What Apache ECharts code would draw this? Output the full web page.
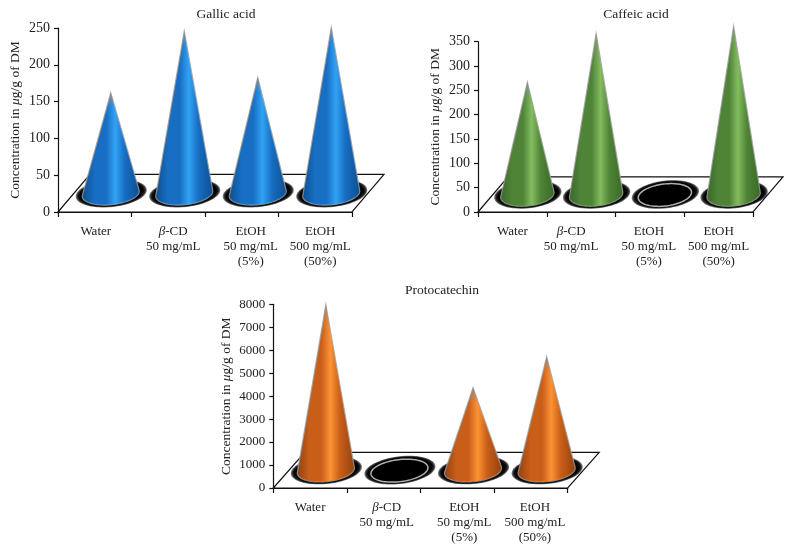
<!DOCTYPE html>
<html><head><meta charset="utf-8">
<style>html,body{margin:0;padding:0;background:#fff}#c{width:793px;height:550px}</style>
<script src="https://cdn.jsdelivr.net/npm/echarts@6/dist/echarts.min.js"></script>
</head><body><div id="c"></div>
<script>
const categories = ['Water', 'β-CD\n50 mg/mL', 'EtOH\n50 mg/mL\n(5%)', 'EtOH\n500 mg/mL\n(50%)'];
const gallicValues = [162, 246, 183, 251];
const caffeicValues = [267, 367, 0, 382];
const protocatechinValues = [7990, 0, 4370, 5720];
const gallicTicks = {max: 250, interval: 50};
const caffeicTicks = {max: 350, interval: 50};
const protocatechinTicks = {max: 8000, interval: 1000};
const titles = ['Gallic acid', 'Caffeic acid', 'Protocatechin'];
const yName = '{r|Concentration in }{i|μ}{r|g/g of DM}';

const FONT = '"Liberation Serif", serif';
const INK = '#222';
const panels = [
  {title: titles[0], values: gallicValues, ticks: gallicTicks, left: 58, top: 28, width: 294, height: 184,
   titleX: 221, titleY: 2, depthX: 32, floorValue: 51, nameGap: 36, tickFont: 14,
   stops: ['#0d4e8e', '#176ec2', '#33a2f4'], shift: [1, 5, 9, 5]},
  {title: titles[1], values: caffeicValues, ticks: caffeicTicks, left: 478, top: 41.7, width: 275, height: 170.3,
   titleX: 631, titleY: 2, depthX: 30, floorValue: 72, nameGap: 36, tickFont: 14,
   stops: ['#3a6826', '#4f8437', '#84bc60'], shift: [0, -10, -1, 0]},
  {title: titles[2], values: protocatechinValues, ticks: protocatechinTicks, left: 273.3, top: 304.3, width: 294.4, height: 183.7,
   titleX: 437, titleY: 278, depthX: 31.5, floorValue: 1555, nameGap: 40, tickFont: 13,
   stops: ['#904110', '#c95e19', '#fd9335'], shift: [0, 3, 7, 4]}
];
const haloSteps = [7, 6, 5, 4, 3, 2, 1];

function ellipsePts(cx, cy, rx, ry, deg) {
  const a = deg * Math.PI / 180, pts = [];
  for (let k = 0; k < 96; k++) {
    const t = k / 96 * 2 * Math.PI, ex = rx * Math.cos(t), ey = ry * Math.sin(t);
    pts.push([cx + ex * Math.cos(a) - ey * Math.sin(a), cy + ex * Math.sin(a) + ey * Math.cos(a)]);
  }
  return pts;
}
function conePts(apex, ell) {
  let li = 0, ri = 0, la = Infinity, ra = -Infinity;
  ell.forEach((p, k) => {
    const s = (p[0] - apex[0]) / (p[1] - apex[1]);
    if (s < la) { la = s; li = k; }
    if (s > ra) { ra = s; ri = k; }
  });
  const out = [apex];
  let k = ri;
  for (let g = 0; g < 97; g++) { out.push(ell[k]); if (k === li) break; k = (k + 1) % 96; }
  return out;
}

const grid = [], xAxis = [], yAxis = [], series = [], title = [];
panels.forEach((p, idx) => {
  grid.push({left: p.left, top: p.top, width: p.width, height: p.height, containLabel: false});
  title.push({text: p.title, left: p.titleX, top: p.titleY, textAlign: 'center',
    textStyle: {fontFamily: FONT, fontSize: 13.5, fontWeight: 'normal', color: INK}});
  xAxis.push({type: 'category', gridIndex: idx,
    data: categories.map((c, i) => ({value: c, textStyle: {padding: p.shift[i] >= 0 ? [0, 0, 0, 2 * p.shift[i]] : [0, -2 * p.shift[i], 0, 0]}})),
    axisLine: {show: true, onZero: false, lineStyle: {color: '#111', width: 1.2}},
    axisTick: {show: true, length: 5, alignWithLabel: false, lineStyle: {color: '#111', width: 1.2}},
    axisLabel: {interval: 0, margin: 12, fontFamily: FONT, fontSize: 13, lineHeight: 15, color: INK, hideOverlap: false,
      formatter: v => v.replace('β', '{i|β}'),
      rich: {i: {fontFamily: FONT, fontSize: 13, fontStyle: 'italic', color: INK, lineHeight: 15}}}
  });
  yAxis.push({type: 'value', gridIndex: idx, min: 0, max: p.ticks.max, interval: p.ticks.interval,
    name: yName, nameLocation: 'middle', nameGap: p.nameGap,
    nameTextStyle: {rich: {
      r: {fontFamily: FONT, fontSize: 13.5, color: INK},
      i: {fontFamily: FONT, fontSize: 13.5, fontStyle: 'italic', color: INK}}},
    splitLine: {show: false},
    axisLine: {show: true, onZero: false, lineStyle: {color: '#111', width: 1.2}},
    axisTick: {show: true, length: 4, lineStyle: {color: '#111', width: 1.2}},
    axisLabel: {margin: 8, fontFamily: FONT, fontSize: p.tickFont, color: INK, formatter: v => String(v)}
  });
  series.push({type: 'custom', xAxisIndex: idx, yAxisIndex: idx, silent: true, z: 1,
    data: [[0, p.floorValue]], encode: {x: 0, y: 1},
    renderItem: (params, api) => {
      const cs = params.coordSys, y0 = cs.y + cs.height, yb = api.coord([0, api.value(1)])[1];
      return {type: 'polygon',
        shape: {points: [[cs.x, y0], [cs.x + cs.width, y0], [cs.x + cs.width + p.depthX, yb], [cs.x + p.depthX, yb]]},
        style: {fill: '#fff', stroke: '#111', lineWidth: 1.2}};
    }});
  series.push({type: 'custom', xAxisIndex: idx, yAxisIndex: idx, silent: true, z: 2,
    data: p.values.map((v, i) => [i, v]), encode: {x: 0, y: 1},
    renderItem: (params, api) => {
      const i = api.value(0), v = api.value(1);
      const base = api.coord([i, 0]), top = api.coord([i, v]);
      const dy = base[1] - api.coord([0, p.floorValue])[1];
      const cx = base[0] + p.depthX / 2, cy = base[1] - dy / 2 + 0.5;
      const band = api.size([1, 0])[0], rx = band * 0.39, ry = 11;
      const tilt = v > 0 ? -6 : -7;
      const children = haloSteps.map(d => ({type: 'polygon',
        shape: {points: ellipsePts(cx + 0.5, cy - 0.5, rx + d, ry + d * 0.4, tilt)},
        style: {fill: 'rgba(0,0,0,0.55)'}}));
      if (v > 0) {
        const s = p.stops;
        const outline = conePts([cx, top[1]], ellipsePts(cx, cy, rx, ry, tilt));
        children.push({type: 'polygon', shape: {points: outline},
          style: {stroke: 'rgba(160,160,160,0.8)', lineWidth: 1.2, fill: {type: 'linear', x: 0, y: 0, x2: 1, y2: 0,
            colorStops: [{offset: 0, color: s[0]}, {offset: 0.22, color: s[1]}, {offset: 0.42, color: s[1]}, {offset: 0.58, color: s[2]}, {offset: 0.74, color: s[1]}, {offset: 1, color: s[0]}]}}});
        const tipH = 14, tipW = rx * tipH / (cy - top[1]);
        children.push({type: 'polygon', shape: {points: [[cx, top[1]], [cx + tipW, top[1] + tipH], [cx - tipW, top[1] + tipH]]},
          style: {fill: {type: 'linear', x: 0, y: 0, x2: 0, y2: 1,
            colorStops: [{offset: 0, color: 'rgba(140,140,140,0.95)'}, {offset: 1, color: 'rgba(140,140,140,0)'}]}}});
      } else {
        children.push({type: 'polygon', shape: {points: ellipsePts(cx, cy, rx, ry, tilt)},
          style: {fill: '#000', stroke: '#b0b0b0', lineWidth: 1.5}});
      }
      return {type: 'group', children};
    }});
});

const chart = echarts.init(document.getElementById('c'), null, {renderer: 'canvas'});
chart.setOption({animation: false, backgroundColor: '#fff', title, grid, xAxis, yAxis, series});
</script></body></html>
